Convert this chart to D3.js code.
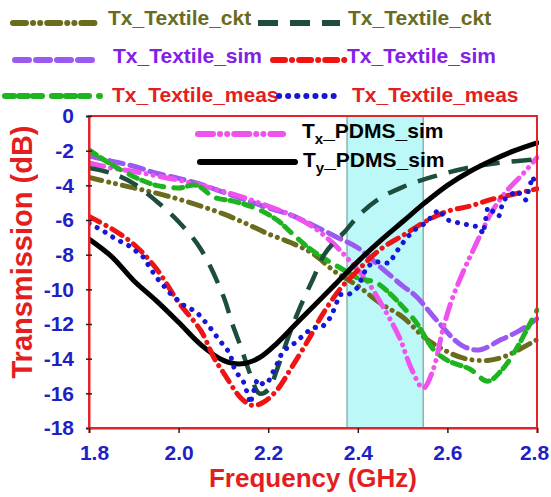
<!DOCTYPE html>
<html><head><meta charset="utf-8">
<script src="https://cdn.jsdelivr.net/npm/d3@7"></script>
<style>body{margin:0;background:#fff}svg{display:block;font-family:"Liberation Sans",Arial,sans-serif;font-weight:bold}</style>
</head><body><svg id="c" width="551" height="497"></svg>
<script>
// ---------- data ----------
const xTicks = [1.8, 2.0, 2.2, 2.4, 2.6, 2.8];
const yTicks = [0, -2, -4, -6, -8, -10, -12, -14, -16, -18];
const band = [2.376, 2.546];

const ckt1 = [[1.80,-3.55],[1.85,-3.85],[1.90,-4.15],[1.95,-4.45],[2.00,-4.8],[2.05,-5.2],[2.10,-5.65],[2.15,-6.2],[2.20,-6.8],[2.25,-7.3],[2.30,-7.95],[2.35,-9.0],[2.40,-9.8],[2.45,-10.8],[2.50,-11.6],[2.55,-12.8],[2.60,-13.6],[2.64,-14.0],[2.69,-14.1],[2.73,-13.85],[2.80,-12.9]];
const ckt2 = [[1.80,-3.0],[1.85,-3.3],[1.90,-3.9],[1.95,-4.9],[2.00,-6.1],[2.05,-7.7],[2.10,-10.4],[2.12,-12.0],[2.14,-13.4],[2.16,-14.9],[2.18,-16.0],[2.20,-15.8],[2.22,-14.6],[2.245,-12.75],[2.27,-11.1],[2.30,-9.4],[2.325,-8.0],[2.35,-7.2],[2.37,-6.7],[2.40,-5.8],[2.443,-4.85],[2.50,-4.1],[2.568,-3.5],[2.644,-3.0],[2.717,-2.7],[2.80,-2.5]];
const sim1 = [[1.80,-2.3],[1.85,-2.6],[1.90,-2.9],[1.95,-3.3],[2.00,-3.6],[2.05,-3.95],[2.10,-4.4],[2.15,-4.85],[2.20,-5.3],[2.25,-5.7],[2.30,-6.3],[2.35,-6.95],[2.40,-7.6],[2.45,-8.7],[2.50,-9.8],[2.53,-10.4],[2.58,-11.9],[2.63,-13.2],[2.67,-13.5],[2.72,-12.9],[2.76,-12.4],[2.80,-11.7]];
const sim2 = [[1.80,-5.8],[1.85,-6.5],[1.90,-7.4],[1.95,-8.8],[2.00,-10.75],[2.05,-12.4],[2.08,-14.0],[2.10,-14.8],[2.14,-16.3],[2.165,-16.7],[2.19,-16.5],[2.22,-15.8],[2.25,-14.6],[2.29,-12.9],[2.32,-11.5],[2.36,-10.0],[2.40,-8.9],[2.45,-7.7],[2.50,-6.9],[2.55,-6.1],[2.60,-5.5],[2.65,-5.2],[2.70,-4.8],[2.75,-4.5],[2.80,-4.2]];
const meas1 = [[1.80,-1.95],[1.85,-2.8],[1.90,-3.5],[1.95,-4.0],[2.00,-4.15],[2.04,-4.0],[2.08,-4.7],[2.12,-4.9],[2.17,-5.3],[2.22,-6.0],[2.25,-6.7],[2.29,-7.6],[2.33,-8.3],[2.37,-8.9],[2.40,-9.35],[2.44,-9.6],[2.47,-10.2],[2.50,-11.0],[2.53,-11.9],[2.57,-13.5],[2.60,-14.1],[2.65,-14.6],[2.69,-15.3],[2.72,-14.7],[2.75,-13.6],[2.78,-12.2],[2.80,-11.2]];
const meas2 = [[1.80,-6.2],[1.83,-6.6],[1.86,-7.1],[1.89,-7.5],[1.92,-8.1],[1.95,-9.3],[1.98,-10.2],[2.01,-10.9],[2.04,-11.3],[2.07,-12.2],[2.09,-12.9],[2.115,-13.7],[2.125,-14.65],[2.145,-15.35],[2.155,-16.1],[2.16,-16.6],[2.175,-15.2],[2.19,-15.5],[2.20,-15.35],[2.21,-14.8],[2.22,-14.3],[2.23,-13.7],[2.245,-13.3],[2.26,-13.1],[2.28,-12.6],[2.30,-12.2],[2.32,-12.2],[2.34,-11.6],[2.36,-10.3],[2.38,-10.3],[2.40,-9.9],[2.42,-8.7],[2.44,-8.4],[2.47,-8.5],[2.49,-7.7],[2.51,-7.0],[2.53,-6.5],[2.55,-6.2],[2.58,-5.4],[2.60,-6.0],[2.63,-6.2],[2.67,-6.4],[2.68,-6.8],[2.69,-5.25],[2.715,-5.8],[2.725,-4.85],[2.755,-4.3],[2.775,-4.85],[2.79,-3.5],[2.80,-4.1]];
const pdmsX = [[1.80,-2.7],[1.85,-3.0],[1.90,-3.2],[1.95,-3.45],[2.00,-3.7],[2.05,-4.0],[2.10,-4.35],[2.15,-4.75],[2.20,-5.2],[2.25,-5.7],[2.30,-6.4],[2.345,-7.35],[2.38,-8.3],[2.42,-9.5],[2.465,-11.4],[2.495,-12.9],[2.52,-14.6],[2.546,-15.7],[2.568,-14.65],[2.59,-12.3],[2.61,-10.6],[2.635,-9.0],[2.66,-7.6],[2.70,-5.5],[2.73,-4.4],[2.77,-3.3],[2.80,-2.4]];
const pdmsY = [[1.80,-7.1],[1.85,-8.1],[1.90,-9.5],[1.95,-10.65],[2.00,-11.9],[2.05,-13.2],[2.10,-14.1],[2.14,-14.3],[2.18,-13.95],[2.22,-13.1],[2.26,-12.05],[2.30,-11.0],[2.35,-9.7],[2.40,-8.4],[2.45,-7.2],[2.50,-6.1],[2.55,-5.0],[2.60,-4.0],[2.65,-3.2],[2.70,-2.55],[2.75,-2.0],[2.80,-1.55]];

const seriesNames = ["Tx_Textile_ckt","Tx_Textile_ckt","Tx_Textile_sim","Tx_Textile_sim","Tx_Textile_meas","Tx_Textile_meas"];

// ---------- styles ----------
const S = {
  ckt1:{c:"#6b6b1e", d:"13 7 0.1 7 0.1 7", cap:"round", w:5},
  ckt2:{c:"#1c4d3d", d:"20 12", cap:"butt", w:4.5},
  sim1:{c:"#9b59f2", d:"14 7", cap:"round", w:5},
  sim2:{c:"#ee1414", d:"12 7 0.1 7", cap:"round", w:5},
  meas1:{c:"#1fb41f", d:"9 5 9 5 9 10", cap:"round", w:5},
  meas2:{c:"#1616d6", d:"0.1 9", cap:"round", w:5},
  pdmsX:{c:"#f052f0", d:"15 7 0.1 7 0.1 7", cap:"round", w:5},
  pdmsY:{c:"#000000", d:null, cap:"round", w:5}
};

const svg = d3.select("#c");
const L = 89, R = 537, T = 116, B = 428;
const x = d3.scaleLinear().domain([1.8, 2.8]).range([L, R]);
const y = d3.scaleLinear().domain([-18, 0]).range([B, T]);

svg.append("rect").attr("width",551).attr("height",497).attr("fill","#fff");

// band
svg.append("rect").attr("x", x(band[0])).attr("y", T).attr("width", x(band[1]) - x(band[0])).attr("height", B - T)
  .attr("fill", "#bdf8f9").attr("stroke", "#8db2b4").attr("stroke-width", 1.5);

svg.append("clipPath").attr("id","clip").append("rect").attr("x",L).attr("y",T-2).attr("width",R-L+2).attr("height",B-T+2);

const gC = svg.append("g").attr("clip-path","url(#clip)");
function draw(data, st, curve){
  const line = d3.line().x(d=>x(d[0])).y(d=>y(d[1])).curve(curve || d3.curveCatmullRom.alpha(0.5));
  const p = gC.append("path").datum(data).attr("d", line).attr("fill","none").attr("stroke", st.c)
    .attr("stroke-width", st.w).attr("stroke-linecap", st.cap).attr("stroke-linejoin","round");
  if (st.d) p.attr("stroke-dasharray", st.d);
}
draw(ckt1, S.ckt1);
draw(sim1, S.sim1);
draw(pdmsX, S.pdmsX);
draw(meas1, S.meas1);
draw(ckt2, S.ckt2);
draw(pdmsY, S.pdmsY);
draw(sim2, S.sim2);
draw(meas2, S.meas2, d3.curveLinear);

// frame
svg.append("rect").attr("x",L).attr("y",T).attr("width",R-L).attr("height",B-T).attr("fill","none").attr("stroke","#e4242a").attr("stroke-width",2);

// axes
const ya = svg.append("g").attr("transform",`translate(${L},0)`)
  .call(d3.axisLeft(y).tickValues(yTicks).tickSize(3).tickPadding(12).tickFormat(d=>String(d)));
ya.select(".domain").attr("stroke","#e4242a").attr("stroke-width",2);
ya.selectAll(".tick line").attr("x1",-3).attr("x2",3).attr("stroke","#222").attr("stroke-width",1.5);
ya.selectAll(".tick text").attr("fill","#1f1fc4").attr("font-size",21).attr("font-weight","bold").attr("font-family","Liberation Sans, Arial, sans-serif");

const xa = svg.append("g").attr("transform",`translate(0,${B})`)
  .call(d3.axisBottom(x).tickValues(xTicks).tickSize(5).tickPadding(12).tickFormat(d3.format(".1f")));
xa.select(".domain").attr("stroke","#e4242a").attr("stroke-width",2);
xa.selectAll(".tick line").attr("stroke","#222").attr("stroke-width",1.5);
xa.selectAll(".tick text").attr("fill","#1f1fc4").attr("font-size",21).attr("font-weight","bold").attr("font-family","Liberation Sans, Arial, sans-serif")
  .attr("dx",(d,i)=> i===0 ? 5 : (i===xTicks.length-1 ? -3 : 0));

// titles
svg.append("text").attr("x",313).attr("y",487).attr("text-anchor","middle").attr("fill","#e41e1e").attr("font-size",26).text("Frequency (GHz)");
svg.append("text").attr("transform","translate(32,252) rotate(-90)").attr("text-anchor","middle").attr("fill","#e41e1e").attr("font-size",29).text("Transmission (dB)");

// top legend
const leg = [
  {st:S.ckt1, x1:13, x2:95, ly:23, tx:108, ty:25, tc:"#6b6b1e", t:seriesNames[0]},
  {st:S.ckt2, x1:258, x2:340, ly:23, tx:348, ty:25, tc:"#6b6b1e", t:seriesNames[1]},
  {st:S.sim1, x1:15, x2:95, ly:60, tx:113, ty:63, tc:"#8320e6", t:seriesNames[2]},
  {st:S.sim2, x1:273, x2:345, ly:60, tx:347, ty:63, tc:"#8320e6", t:seriesNames[3]},
  {st:S.meas1, x1:5, x2:100, ly:96, tx:112, ty:102, tc:"#e41e1e", t:seriesNames[4]},
  {st:S.meas2, x1:279, x2:342, ly:96, tx:352, ty:102, tc:"#e41e1e", t:seriesNames[5]}
];
leg.forEach(l=>{
  const ln = svg.append("line").attr("x1",l.x1).attr("x2",l.x2).attr("y1",l.ly).attr("y2",l.ly)
    .attr("stroke",l.st.c).attr("stroke-width",6).attr("stroke-linecap",l.st.cap);
  if (l.st.d) ln.attr("stroke-dasharray", l.st.d);
  svg.append("text").attr("x",l.tx).attr("y",l.ty).attr("fill",l.tc).attr("font-size",21).text(l.t);
});

// inner legend
const inner = [
  {st:S.pdmsX, x1:198, x2:283, ly:134, tx:302, ty:138, sub:"x"},
  {st:S.pdmsY, x1:200, x2:295, ly:162, tx:303, ty:167, sub:"y"}
];
inner.forEach(l=>{
  const ln = svg.append("line").attr("x1",l.x1).attr("x2",l.x2).attr("y1",l.ly).attr("y2",l.ly)
    .attr("stroke",l.st.c).attr("stroke-width",6).attr("stroke-linecap",l.st.cap);
  if (l.st.d) ln.attr("stroke-dasharray", l.st.d);
  const t = svg.append("text").attr("x",l.tx).attr("y",l.ty).attr("fill","#000").attr("font-size",21);
  t.append("tspan").text("T");
  t.append("tspan").attr("font-size",15).attr("dy",6).text(l.sub);
  t.append("tspan").attr("dy",-6).text("_PDMS_sim");
});
</script></body></html>
